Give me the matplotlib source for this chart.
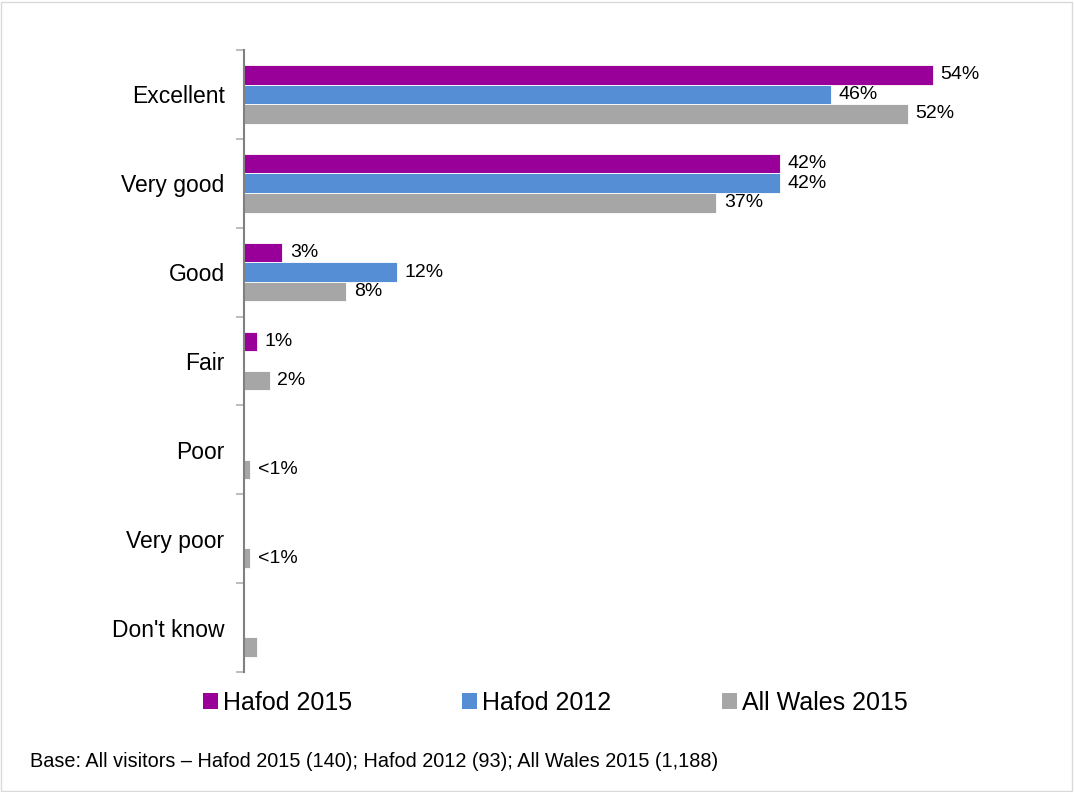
import numpy as np
import matplotlib.pyplot as plt
from matplotlib.patches import Patch, Rectangle

plt.rcParams["font.family"] = ["Liberation Sans", "DejaVu Sans"]

# -------------------------------------------------
# DATA
# -------------------------------------------------

categories = ["Excellent", "Very good", "Good", "Fair", "Poor", "Very poor", "Don't know"]

series_names = ["Hafod 2015", "Hafod 2012", "All Wales 2015"]

hafod_2015 = [54, 42, 3, 1, 0, 0, 0]
hafod_2012 = [46, 42, 12, 0, 0, 0, 0]
wales_2015 = [52, 37, 8, 2, 0.5, 0.5, 1]

labels_2015 = ["54%", "42%", "3%", "1%", "", "", ""]
labels_2012 = ["46%", "42%", "12%", "", "", "", ""]
labels_wales = ["52%", "37%", "8%", "2%", "<1%", "<1%", ""]

colors = ["#990099", "#558ED5", "#A6A6A6"]

footnote = "Base: All visitors \u2013 Hafod 2015 (140); Hafod 2012 (93); All Wales 2015 (1,188)"

# -------------------------------------------------
# PLOT
# -------------------------------------------------

fig = plt.figure(figsize=(10.74, 7.92), dpi=100)
ax = fig.add_axes([0.2272, 0.1515, 0.72, 0.7855])

y = np.arange(len(categories))
h = 0.22

for i, (vals, labs) in enumerate(zip(
    [hafod_2015, hafod_2012, wales_2015],
    [labels_2015, labels_2012, labels_wales]
)):
    pos = y + (i - 1) * h
    ax.barh(pos, vals, height=h, color=colors[i],
            edgecolor="white", linewidth=0.6)
    for p, v, lab in zip(pos, vals, labs):
        if lab:
            ax.text(v + 0.6, p, lab, va="center", ha="left", fontsize=14)

ax.set_ylim(len(categories) - 0.5, -0.5)
ax.set_xlim(0, 60.6)

ax.set_yticks(y)
ax.set_yticklabels(categories, fontsize=16.5)
ax.tick_params(axis="y", which="major", length=0, pad=14)
ax.set_yticks(np.arange(len(categories) + 1) - 0.5, minor=True)
ax.tick_params(axis="y", which="minor", length=6, width=1.2, color="#B0B0B0")

ax.set_xticks([])
for s in ["top", "right", "bottom"]:
    ax.spines[s].set_visible(False)
ax.spines["left"].set_color("#808080")
ax.spines["left"].set_linewidth(1.5)

handles = [Patch(facecolor=c, edgecolor="none") for c in colors]
fig.legend(handles, series_names,
           loc="center", bbox_to_anchor=(0.517, 0.1124),
           ncol=3, frameon=False, fontsize=18,
           handlelength=0.6, handleheight=0.6, handletextpad=0.2,
           columnspacing=4.4)

fig.text(0.028, 0.039, footnote, fontsize=14.3, ha="left", va="center")

fig.patches.append(Rectangle((0.001, 0.001), 0.997, 0.997,
                             transform=fig.transFigure, fill=False,
                             edgecolor="#D9D9D9", linewidth=1))

plt.savefig("out.png", dpi=100)
